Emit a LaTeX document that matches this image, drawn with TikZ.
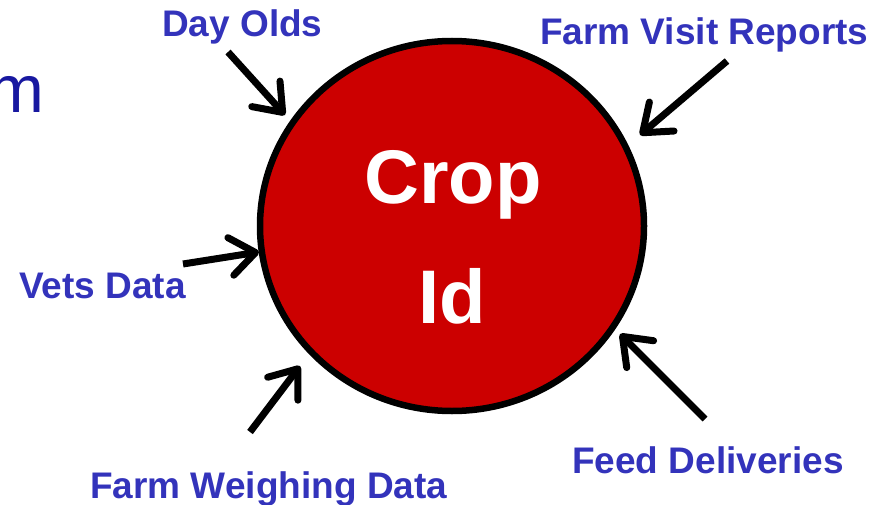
\documentclass[tikz,border=0pt]{standalone}
\usepackage{fontspec}
\setmainfont{Liberation Sans}
\usetikzlibrary{arrows.meta}
\definecolor{labelblue}{RGB}{51,51,187}
\definecolor{titleblue}{RGB}{24,24,160}
\definecolor{cropred}{RGB}{204,0,0}
\tikzset{
  lbl/.style={anchor=base west, inner sep=0pt, text=labelblue, font=\fontsize{37}{37}\selectfont\bfseries},
  centretext/.style={anchor=base, inner sep=0pt, text=white, font=\fontsize{76}{76}\selectfont\bfseries},
  feed/.style={line width=7pt, -{Straight Barb[round,length=25pt,width=38pt]}},
}
\begin{document}
\begin{tikzpicture}[x=1pt,y=-1pt]
\useasboundingbox (0,0) rectangle (885,505);
\begin{scope}
\clip (0,0) rectangle (885,505);
\node[anchor=base west, inner sep=0pt, text=titleblue, font=\fontsize{67}{67}\selectfont] (title) at (-11.5,113) {m};
\end{scope}
\draw[line width=6.5pt, fill=cropred] (452,226) ellipse [x radius=192, y radius=185];
\node[centretext] (crop) at (453,203) {Crop};
\node[centretext] (id) at (452.5,323) {Id};
\node[lbl] (dayolds) at (162,37) {Day Olds};
\node[lbl] (visit) at (540,45) {Farm Visit Reports};
\node[lbl] (vets) at (19,298) {Vets Data};
\node[lbl] (weigh) at (90,498) {Farm Weighing Data};
\node[lbl] (deliv) at (572,473) {Feed Deliveries};
\coordinate (s1) at (228,52);  \coordinate (t1) at (285,115);
\coordinate (s2) at (727,61);  \coordinate (t2) at (640,135);
\coordinate (s3) at (183,264); \coordinate (t3) at (259,252);
\coordinate (s4) at (250,432); \coordinate (t4) at (300,366);
\coordinate (s5) at (705,419); \coordinate (t5) at (620,334);
\draw[feed] (s1) -- (t1);
\draw[feed] (s2) -- (t2);
\draw[feed] (s3) -- (t3);
\draw[feed] (s4) -- (t4);
\draw[feed] (s5) -- (t5);
\end{tikzpicture}
\end{document}
